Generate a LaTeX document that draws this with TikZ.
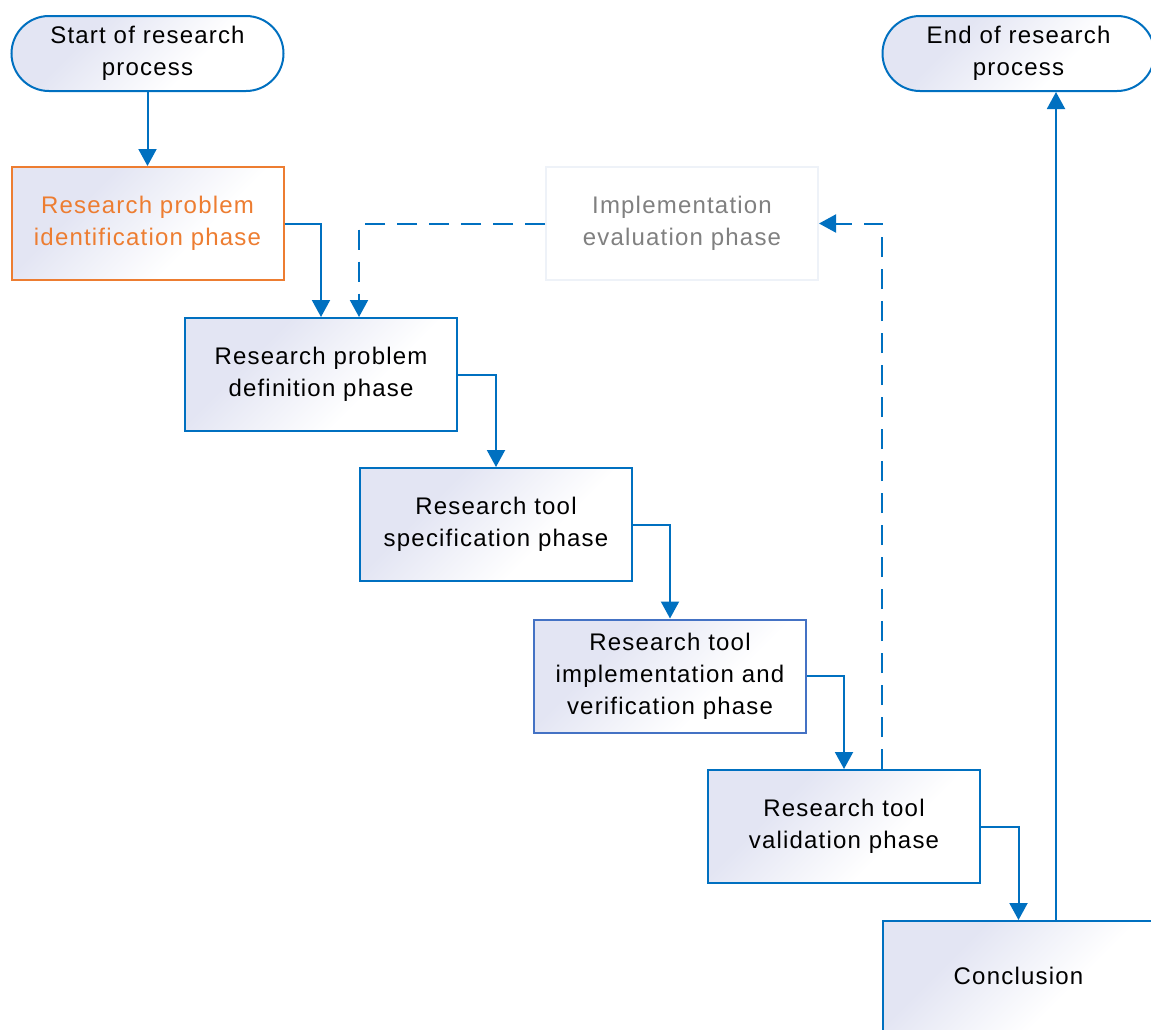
\documentclass[tikz,border=0pt]{standalone}
\usepackage{fontspec}
\setmainfont[LetterSpace=5]{Liberation Sans}
\usetikzlibrary{arrows.meta}
\definecolor{lineblue}{HTML}{0070C0}
\definecolor{darkblue}{HTML}{4472C4}
\definecolor{orng}{HTML}{ED7D31}
\definecolor{lav}{HTML}{E3E5F3}
\definecolor{faint}{HTML}{EEF2F8}
\definecolor{gtext}{HTML}{808080}
\pgfdeclarehorizontalshading{diaglav}{100bp}{color(0bp)=(lav); color(34bp)=(lav); color(62bp)=(white); color(100bp)=(white)}
\tikzset{
  phase/.style={draw=lineblue, line width=2pt, rectangle, minimum width=272pt, minimum height=113pt,
    inner sep=0pt, align=center, font=\fontsize{24}{32}\selectfont,
    shade, shading=diaglav, shading angle=-45},
  terminal/.style={phase, minimum height=75pt, rounded corners=37.5pt},
  conn/.style={draw=lineblue, line width=2pt, -{Triangle[length=17pt,width=18pt]}},
  dconn/.style={conn, dash pattern=on 20pt off 12pt},
}
\begin{document}
\begin{tikzpicture}[x=1pt,y=-1pt]
\useasboundingbox (0,0) rectangle (1151,1029);
\fill[white] (0,0) rectangle (1151,1029);
\node[terminal] (start) at (147.5,53.5) {Start of research\\process};
\node[terminal] (end) at (1018.5,53.5) {End of research\\process};
\node[phase, draw=orng, text=orng] (ident) at (147.5,223.5) {Research problem\\identification phase};
\node[phase, draw=faint, text=gtext, shading=axis, top color=white, bottom color=white] (eval) at (682,223.5) {Implementation\\evaluation phase};
\node[phase] (defn) at (321,374.5) {Research problem\\definition phase};
\node[phase] (spec) at (496,524.5) {Research tool\\specification phase};
\node[phase, draw=darkblue] (impl) at (670,676) {Research tool\\implementation and\\verification phase};
\node[phase] (valid) at (844,826.5) {Research tool\\validation phase};
\node[phase, minimum height=110pt] (concl) at (1018.5,976) {Conclusion};

\draw[conn] (start) -- (ident);
\draw[conn] (ident.east) -| (defn.north);
\draw[conn] (defn.east) -| (spec.north);
\draw[conn] (spec.east) -| (impl.north);
\draw[conn] (impl.east) -| (valid.north);
\draw[conn] (valid.east) -| (concl.north);
\draw[conn] (concl.north -| 1056,0) -- (end.south -| 1056,0);
\draw[dconn] (valid.north -| 882,0) |- (eval.east);
\draw[dconn] (eval.west) -| (defn.north -| 359,0);
\end{tikzpicture}
\end{document}
